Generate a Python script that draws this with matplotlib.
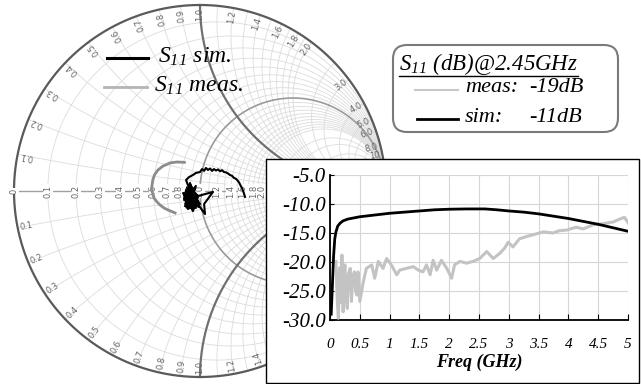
import numpy as np
import matplotlib
matplotlib.use("Agg")
import matplotlib.pyplot as plt
from matplotlib.patches import Rectangle, FancyBboxPatch

plt.rcParams['font.family'] = 'Liberation Serif'
plt.rcParams['mathtext.fontset'] = 'custom'
plt.rcParams['mathtext.rm'] = 'Liberation Serif:italic'
plt.rcParams['mathtext.it'] = 'Liberation Serif:italic'
plt.rcParams['axes.unicode_minus'] = False

########################  Data  ########################

# Smith chart traces: reflection coefficient (real, imag)
meas_re = [-0.084, -0.124, -0.161, -0.199, -0.226, -0.245, -0.254, -0.260,
           -0.255, -0.247, -0.231, -0.215, -0.194, -0.172, -0.134]
meas_im = [0.154, 0.156, 0.151, 0.134, 0.113, 0.086, 0.059, 0.016,
           -0.011, -0.038, -0.059, -0.075, -0.091, -0.102, -0.118]

sim_re = [-0.043, -0.075, -0.032, -0.065, -0.022, -0.086, -0.005, -0.054, -0.070, -0.016,
          -0.091, -0.038, -0.011, -0.075, -0.027, -0.059, 0.000, -0.081, -0.022, -0.048,
          -0.065, -0.032, -0.086, -0.011, -0.054, -0.080, -0.040, -0.070, -0.020, -0.060,
          -0.030, -0.085, -0.050, -0.015, -0.072, -0.045,
          -0.011, 0.070, 0.022, 0.027, -0.016, -0.059, -0.032, -0.011,
          -0.065, -0.075, -0.059, -0.038, -0.022, 0.000, 0.011, 0.022, 0.032, 0.043,
          0.054, 0.065, 0.075, 0.086, 0.097, 0.108, 0.118, 0.129, 0.140, 0.151,
          0.161, 0.172, 0.183, 0.193, 0.204, 0.210, 0.215, 0.220, 0.226, 0.231,
          0.236, 0.242]
sim_im = [-0.038, 0.005, -0.075, -0.097, 0.027, -0.048, -0.086, 0.043, -0.065, -0.022,
          -0.011, -0.108, -0.032, -0.054, -0.054, 0.016, -0.070, -0.081, -0.091, -0.005,
          -0.027, 0.011, -0.038, -0.060, -0.020, -0.070, -0.095, 0.020, -0.045, 0.000,
          -0.080, -0.025, 0.030, -0.050, -0.090, -0.015,
          -0.027, -0.005, -0.070, -0.124, -0.065, -0.086, -0.038, -0.027,
          0.032, 0.059, 0.075, 0.086, 0.097, 0.102, 0.118, 0.108, 0.124, 0.113,
          0.121, 0.108, 0.118, 0.110, 0.116, 0.106, 0.112, 0.102, 0.100, 0.094,
          0.086, 0.082, 0.070, 0.066, 0.054, 0.046, 0.036, 0.026, 0.016, 0.002,
          -0.012, -0.032]

# inset: S11 (dB) vs frequency (GHz)
sim_f = [0.02, 0.04, 0.06, 0.08, 0.1, 0.13, 0.17, 0.22, 0.3, 0.5, 0.75, 1.0, 1.25,
         1.5, 1.75, 2.0, 2.3, 2.6, 2.8, 3.0, 3.25, 3.5, 3.75, 4.0, 4.25, 4.5, 4.75, 5.0]
sim_db = [-29.0, -24.0, -19.0, -16.0, -14.8, -13.8, -13.3, -12.9, -12.6, -12.2, -11.9,
          -11.6, -11.4, -11.2, -11.0, -10.9, -10.85, -10.85, -11.0, -11.2, -11.4, -11.7,
          -12.1, -12.5, -13.0, -13.5, -14.1, -14.7]

meas_f = [0.10, 0.12, 0.14, 0.16, 0.18, 0.20, 0.22, 0.24, 0.25, 0.27, 0.29, 0.31, 0.34,
          0.36, 0.38, 0.41, 0.43, 0.45, 0.47, 0.50, 0.56,
          0.61, 0.70, 0.75, 0.81, 0.89, 0.95, 1.03, 1.12, 1.17, 1.28, 1.40, 1.48, 1.56,
          1.62, 1.68, 1.73, 1.79, 1.87, 1.96, 2.04, 2.09, 2.18, 2.29, 2.40, 2.51, 2.63,
          2.74, 2.85, 2.93, 2.99, 3.07, 3.18, 3.30, 3.41, 3.58, 3.74, 3.85, 3.97, 4.13,
          4.25, 4.41, 4.58, 4.75, 4.86, 4.94, 5.00]
meas_db = [-19.9, -26.0, -29.7, -21.0, -27.0, -18.8, -28.6, -22.0, -20.5, -26.0, -28.0,
           -22.0, -21.1, -26.8, -22.5, -21.7, -25.0, -25.7, -21.7, -26.8, -23.4,
           -21.1, -20.5, -22.8, -19.9, -21.1, -19.4, -20.5, -22.2, -21.4,
           -21.1, -20.8, -21.4, -21.7, -20.5, -22.2, -19.7, -21.4, -19.7, -21.1, -22.8,
           -20.5, -19.9, -20.2, -19.9, -19.4, -18.2, -19.4, -18.5, -17.6, -16.6, -17.4,
           -16.0, -15.6, -15.3, -14.8, -15.0, -14.6, -14.5, -14.0, -14.3, -13.6, -13.4,
           -13.1, -12.6, -12.3, -13.2]

# Smith chart labels
r_labels = [0, 0.1, 0.2, 0.3, 0.4, 0.5, 0.6, 0.7, 0.8, 0.9, 1.0, 1.2, 1.4, 1.6, 1.8, 2.0]
x_labels = [0.1, 0.2, 0.3, 0.4, 0.5, 0.6, 0.7, 0.8, 0.9, 1.0, 1.2, 1.4, 1.6, 1.8, 2.0,
            3.0, 4.0, 5.0, 6.0, 8.0, 10]
grid_vals = [0.1, 0.2, 0.3, 0.4, 0.5, 0.6, 0.7, 0.8, 0.9, 1.1, 1.2, 1.3, 1.4, 1.5,
             1.6, 1.7, 1.8, 1.9, 2.0, 2.5, 3.0, 4.0, 5.0, 6.0, 8.0, 10, 20]

freq_ticks = [0, 0.5, 1, 1.5, 2, 2.5, 3, 3.5, 4, 4.5, 5]
freq_ticklabels = ['0', '0.5', '1', '1.5', '2', '2.5', '3', '3.5', '4', '4.5', '5']
db_ticks = [-30, -25, -20, -15, -10, -5]


########################  Layout helpers  ########################

W, H = 641, 384
CX, CY, RAD = 200, 191, 186   # smith chart centre and radius (pixels)


def px(x, y):
	# pixel position (from top-left) -> smith axes data coords
	return (x - CX) / RAD, (CY - y) / RAD


def gamma(z):
	return (z - 1) / (z + 1)


fig = plt.figure(figsize=(W / 100, H / 100), dpi=100)
ax = fig.add_axes([0, 0, 1, 1])
xa, ya = px(0, H)
xb, yb = px(W, 0)
ax.set_xlim(xa, xb)
ax.set_ylim(ya, yb)
ax.axis('off')

gcol = '#dcdcdc'
t = np.linspace(-np.pi / 2 + 1e-4, np.pi / 2 - 1e-4, 900)
tt = np.linspace(0, np.pi / 2 - 1e-4, 600)

for v in grid_vals:
	g = gamma(v + 1j * np.tan(t))
	ax.plot(g.real, g.imag, color=gcol, lw=0.6, zorder=1)
	for s in (1, -1):
		g = gamma(np.tan(tt) + 1j * s * v)
		ax.plot(g.real, g.imag, color=gcol, lw=0.6, zorder=1)

# real axis, r=1 circle, x=+-1 arcs, outer circle
ax.plot([-1, 1], [0, 0], color='#a0a0a0', lw=1.0, zorder=2)
g = gamma(1 + 1j * np.tan(t))
ax.plot(g.real, g.imag, color='#9a9a9a', lw=1.2, zorder=2)
for s in (1, -1):
	g = gamma(np.tan(tt) + 1j * s)
	ax.plot(g.real, g.imag, color='#707070', lw=1.6, zorder=2)
th = np.linspace(0, 2 * np.pi, 800)
ax.plot(np.cos(th), np.sin(th), color='#5a5a5a', lw=1.6, zorder=2)

# real-axis labels
for r in r_labels:
	gx = (r - 1) / (r + 1)
	lab = '0' if r == 0 else '%.1f' % r
	ax.text(gx, 0, lab, rotation=90, ha='center', va='center', fontsize=6,
		family='DejaVu Sans', color='#666666', zorder=3,
		bbox=dict(facecolor='white', edgecolor='none', pad=0.2))

# reactance labels round the rim
for xv in x_labels:
	lab = '10' if xv == 10 else '%.1f' % xv
	ang = np.degrees(np.angle(gamma(1j * xv)))
	for s in (1, -1):
		a = s * ang
		pos = 0.985 * np.exp(1j * np.radians(a))
		if s > 0:
			ax.text(pos.real, pos.imag, lab, rotation=a, rotation_mode='anchor',
				ha='right', va='center', fontsize=6, family='DejaVu Sans',
				color='#666666', zorder=3)
		else:
			ax.text(pos.real, pos.imag, lab, rotation=a + 180, rotation_mode='anchor',
				ha='left', va='center', fontsize=6, family='DejaVu Sans',
				color='#666666', zorder=3)

# traces
ax.plot(meas_re, meas_im, color='#8c8c8c', lw=2.0, zorder=4)
ax.plot(sim_re, sim_im, color='black', lw=1.5, zorder=5)

# legend (upper left)
ax.plot(*zip(px(107, 58), px(148, 58)), color='black', lw=2.2, zorder=6)
ax.text(*px(158, 57), '$S_{11}$ sim.', fontsize=17, style='italic', va='center', zorder=6)
ax.plot(*zip(px(104, 87), px(147, 87)), color='#b4b4b4', lw=2.0, zorder=6)
ax.text(*px(154, 86), '$S_{11}$ meas.', fontsize=17, style='italic', va='center', zorder=6)

# value box (upper right)
bx, by = px(393, 132)
box = FancyBboxPatch((bx, by), (618 - 393) / RAD, (132 - 45) / RAD,
	boxstyle='round,pad=0,rounding_size=%f' % (14 / RAD),
	facecolor='white', edgecolor='#7a7a7a', lw=1.5, zorder=6)
ax.add_patch(box)
ttl = ax.text(*px(399, 64), '$S_{11}$ (dB)@2.45GHz', fontsize=16.5, style='italic',
	va='center', zorder=7)
ax.plot(*zip(px(415, 90), px(458, 90)), color='#c8c8c8', lw=1.5, zorder=7)
ax.text(*px(465, 88), 'meas:', fontsize=16, style='italic', va='center', zorder=7)
ax.text(*px(529, 88), '-19dB', fontsize=16, style='italic', va='center', zorder=7)
ax.plot(*zip(px(417, 119), px(458, 119)), color='black', lw=2.0, zorder=7)
ax.text(*px(465, 118), 'sim:', fontsize=16, style='italic', va='center', zorder=7)
ax.text(*px(529, 118), '-11dB', fontsize=16, style='italic', va='center', zorder=7)

# inset frame
fx, fy = px(266, 383)
ax.add_patch(Rectangle((fx, fy), (639 - 266) / RAD, (383 - 159) / RAD,
	facecolor='white', edgecolor='black', lw=1.0, zorder=8, clip_on=False))


########################  Inset  ########################

ins = fig.add_axes([330 / W, 1 - 320 / H, 298 / W, 145 / H])
ins.plot(meas_f, meas_db, color='#c3c3c3', lw=2.2, zorder=3)
ins.plot(sim_f, sim_db, color='black', lw=2.0, zorder=4)
ins.set_xlim(0, 5)
ins.set_ylim(-30, -5)
ins.set_xticks(freq_ticks)
ins.set_xticklabels(freq_ticklabels, fontsize=11, style='italic')
ins.set_yticks(db_ticks)
ins.set_yticklabels(['%.1f' % v for v in db_ticks], fontsize=15, style='italic')
ins.grid(True, color='#d6d6d6', lw=0.8)
ins.set_axisbelow(True)
for side in ('top', 'right'):
	ins.spines[side].set_visible(False)
for side in ('left', 'bottom'):
	ins.spines[side].set_linewidth(1.3)
ins.tick_params(axis='x', direction='in', length=4, pad=13)
ins.tick_params(axis='y', direction='in', length=3, pad=3)
ins.set_xlabel('Freq (GHz)', fontsize=13, style='italic', fontweight='bold', labelpad=2)

# underline the box title
fig.canvas.draw()
bb = ttl.get_window_extent()
inv = ax.transData.inverted()
(ux0, uy0), (ux1, uy1) = inv.transform([(bb.x0, bb.y0 + 1), (bb.x1, bb.y0 + 1)])
ax.plot([ux0, ux1], [uy0, uy1], color='black', lw=1.0, zorder=7)

fig.savefig('out.png', dpi=100)
